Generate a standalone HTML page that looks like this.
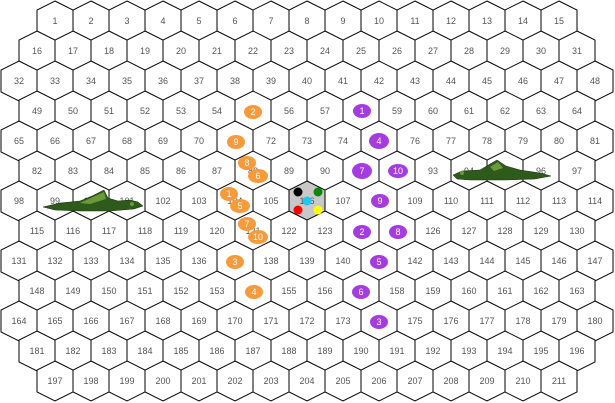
<!DOCTYPE html>
<html><head><meta charset="utf-8"><style>
html,body{margin:0;padding:0;background:#fff;width:615px;height:403px;overflow:hidden}
svg{display:block}
text{font-family:"Liberation Sans",sans-serif;font-size:9px;fill:#555;text-anchor:middle;dominant-baseline:central}
.t text{fill:#fff;font-size:9px}
</style></head><body>
<svg width="615" height="403" viewBox="0 0 615 403" xmlns="http://www.w3.org/2000/svg">
<defs><polygon id="h" points="0,-20 18,-11 18,11 0,20 -18,11 -18,-11" fill="#fff" stroke="#000" stroke-width="1"/></defs>
<g transform="translate(0,21)"><use href="#h" x="55"/><text x="55">1</text><use href="#h" x="91"/><text x="91">2</text><use href="#h" x="127"/><text x="127">3</text><use href="#h" x="163"/><text x="163">4</text><use href="#h" x="199"/><text x="199">5</text><use href="#h" x="235"/><text x="235">6</text><use href="#h" x="271"/><text x="271">7</text><use href="#h" x="307"/><text x="307">8</text><use href="#h" x="343"/><text x="343">9</text><use href="#h" x="379"/><text x="379">10</text><use href="#h" x="415"/><text x="415">11</text><use href="#h" x="451"/><text x="451">12</text><use href="#h" x="487"/><text x="487">13</text><use href="#h" x="523"/><text x="523">14</text><use href="#h" x="559"/><text x="559">15</text></g>
<g transform="translate(0,51)"><use href="#h" x="37"/><text x="37">16</text><use href="#h" x="73"/><text x="73">17</text><use href="#h" x="109"/><text x="109">18</text><use href="#h" x="145"/><text x="145">19</text><use href="#h" x="181"/><text x="181">20</text><use href="#h" x="217"/><text x="217">21</text><use href="#h" x="253"/><text x="253">22</text><use href="#h" x="289"/><text x="289">23</text><use href="#h" x="325"/><text x="325">24</text><use href="#h" x="361"/><text x="361">25</text><use href="#h" x="397"/><text x="397">26</text><use href="#h" x="433"/><text x="433">27</text><use href="#h" x="469"/><text x="469">28</text><use href="#h" x="505"/><text x="505">29</text><use href="#h" x="541"/><text x="541">30</text><use href="#h" x="577"/><text x="577">31</text></g>
<g transform="translate(0,81)"><use href="#h" x="19"/><text x="19">32</text><use href="#h" x="55"/><text x="55">33</text><use href="#h" x="91"/><text x="91">34</text><use href="#h" x="127"/><text x="127">35</text><use href="#h" x="163"/><text x="163">36</text><use href="#h" x="199"/><text x="199">37</text><use href="#h" x="235"/><text x="235">38</text><use href="#h" x="271"/><text x="271">39</text><use href="#h" x="307"/><text x="307">40</text><use href="#h" x="343"/><text x="343">41</text><use href="#h" x="379"/><text x="379">42</text><use href="#h" x="415"/><text x="415">43</text><use href="#h" x="451"/><text x="451">44</text><use href="#h" x="487"/><text x="487">45</text><use href="#h" x="523"/><text x="523">46</text><use href="#h" x="559"/><text x="559">47</text><use href="#h" x="595"/><text x="595">48</text></g>
<g transform="translate(0,111)"><use href="#h" x="37"/><text x="37">49</text><use href="#h" x="73"/><text x="73">50</text><use href="#h" x="109"/><text x="109">51</text><use href="#h" x="145"/><text x="145">52</text><use href="#h" x="181"/><text x="181">53</text><use href="#h" x="217"/><text x="217">54</text><use href="#h" x="253"/><text x="253">55</text><use href="#h" x="289"/><text x="289">56</text><use href="#h" x="325"/><text x="325">57</text><use href="#h" x="361"/><text x="361">58</text><use href="#h" x="397"/><text x="397">59</text><use href="#h" x="433"/><text x="433">60</text><use href="#h" x="469"/><text x="469">61</text><use href="#h" x="505"/><text x="505">62</text><use href="#h" x="541"/><text x="541">63</text><use href="#h" x="577"/><text x="577">64</text></g>
<g transform="translate(0,141)"><use href="#h" x="19"/><text x="19">65</text><use href="#h" x="55"/><text x="55">66</text><use href="#h" x="91"/><text x="91">67</text><use href="#h" x="127"/><text x="127">68</text><use href="#h" x="163"/><text x="163">69</text><use href="#h" x="199"/><text x="199">70</text><use href="#h" x="235"/><text x="235">71</text><use href="#h" x="271"/><text x="271">72</text><use href="#h" x="307"/><text x="307">73</text><use href="#h" x="343"/><text x="343">74</text><use href="#h" x="379"/><text x="379">75</text><use href="#h" x="415"/><text x="415">76</text><use href="#h" x="451"/><text x="451">77</text><use href="#h" x="487"/><text x="487">78</text><use href="#h" x="523"/><text x="523">79</text><use href="#h" x="559"/><text x="559">80</text><use href="#h" x="595"/><text x="595">81</text></g>
<g transform="translate(0,171)"><use href="#h" x="37"/><text x="37">82</text><use href="#h" x="73"/><text x="73">83</text><use href="#h" x="109"/><text x="109">84</text><use href="#h" x="145"/><text x="145">85</text><use href="#h" x="181"/><text x="181">86</text><use href="#h" x="217"/><text x="217">87</text><use href="#h" x="253"/><text x="253">88</text><use href="#h" x="289"/><text x="289">89</text><use href="#h" x="325"/><text x="325">90</text><use href="#h" x="361"/><text x="361">91</text><use href="#h" x="397"/><text x="397">92</text><use href="#h" x="433"/><text x="433">93</text><use href="#h" x="469"/><text x="469">94</text><use href="#h" x="505"/><text x="505">95</text><use href="#h" x="541"/><text x="541">96</text><use href="#h" x="577"/><text x="577">97</text></g>
<g transform="translate(0,201)"><use href="#h" x="19"/><text x="19">98</text><use href="#h" x="55"/><text x="55">99</text><use href="#h" x="91"/><text x="91">100</text><use href="#h" x="127"/><text x="127">101</text><use href="#h" x="163"/><text x="163">102</text><use href="#h" x="199"/><text x="199">103</text><use href="#h" x="235"/><text x="235">104</text><use href="#h" x="271"/><text x="271">105</text><polygon points="307,-20 325,-11 325,11 307,20 289,11 289,-11" fill="#c8c8c8" stroke="#000" stroke-width="1"/><text x="307">106</text><use href="#h" x="343"/><text x="343">107</text><use href="#h" x="379"/><text x="379">108</text><use href="#h" x="415"/><text x="415">109</text><use href="#h" x="451"/><text x="451">110</text><use href="#h" x="487"/><text x="487">111</text><use href="#h" x="523"/><text x="523">112</text><use href="#h" x="559"/><text x="559">113</text><use href="#h" x="595"/><text x="595">114</text></g>
<g transform="translate(0,231)"><use href="#h" x="37"/><text x="37">115</text><use href="#h" x="73"/><text x="73">116</text><use href="#h" x="109"/><text x="109">117</text><use href="#h" x="145"/><text x="145">118</text><use href="#h" x="181"/><text x="181">119</text><use href="#h" x="217"/><text x="217">120</text><use href="#h" x="253"/><text x="253">121</text><use href="#h" x="289"/><text x="289">122</text><use href="#h" x="325"/><text x="325">123</text><use href="#h" x="361"/><text x="361">124</text><use href="#h" x="397"/><text x="397">125</text><use href="#h" x="433"/><text x="433">126</text><use href="#h" x="469"/><text x="469">127</text><use href="#h" x="505"/><text x="505">128</text><use href="#h" x="541"/><text x="541">129</text><use href="#h" x="577"/><text x="577">130</text></g>
<g transform="translate(0,261)"><use href="#h" x="19"/><text x="19">131</text><use href="#h" x="55"/><text x="55">132</text><use href="#h" x="91"/><text x="91">133</text><use href="#h" x="127"/><text x="127">134</text><use href="#h" x="163"/><text x="163">135</text><use href="#h" x="199"/><text x="199">136</text><use href="#h" x="235"/><text x="235">137</text><use href="#h" x="271"/><text x="271">138</text><use href="#h" x="307"/><text x="307">139</text><use href="#h" x="343"/><text x="343">140</text><use href="#h" x="379"/><text x="379">141</text><use href="#h" x="415"/><text x="415">142</text><use href="#h" x="451"/><text x="451">143</text><use href="#h" x="487"/><text x="487">144</text><use href="#h" x="523"/><text x="523">145</text><use href="#h" x="559"/><text x="559">146</text><use href="#h" x="595"/><text x="595">147</text></g>
<g transform="translate(0,291)"><use href="#h" x="37"/><text x="37">148</text><use href="#h" x="73"/><text x="73">149</text><use href="#h" x="109"/><text x="109">150</text><use href="#h" x="145"/><text x="145">151</text><use href="#h" x="181"/><text x="181">152</text><use href="#h" x="217"/><text x="217">153</text><use href="#h" x="253"/><text x="253">154</text><use href="#h" x="289"/><text x="289">155</text><use href="#h" x="325"/><text x="325">156</text><use href="#h" x="361"/><text x="361">157</text><use href="#h" x="397"/><text x="397">158</text><use href="#h" x="433"/><text x="433">159</text><use href="#h" x="469"/><text x="469">160</text><use href="#h" x="505"/><text x="505">161</text><use href="#h" x="541"/><text x="541">162</text><use href="#h" x="577"/><text x="577">163</text></g>
<g transform="translate(0,321)"><use href="#h" x="19"/><text x="19">164</text><use href="#h" x="55"/><text x="55">165</text><use href="#h" x="91"/><text x="91">166</text><use href="#h" x="127"/><text x="127">167</text><use href="#h" x="163"/><text x="163">168</text><use href="#h" x="199"/><text x="199">169</text><use href="#h" x="235"/><text x="235">170</text><use href="#h" x="271"/><text x="271">171</text><use href="#h" x="307"/><text x="307">172</text><use href="#h" x="343"/><text x="343">173</text><use href="#h" x="379"/><text x="379">174</text><use href="#h" x="415"/><text x="415">175</text><use href="#h" x="451"/><text x="451">176</text><use href="#h" x="487"/><text x="487">177</text><use href="#h" x="523"/><text x="523">178</text><use href="#h" x="559"/><text x="559">179</text><use href="#h" x="595"/><text x="595">180</text></g>
<g transform="translate(0,351)"><use href="#h" x="37"/><text x="37">181</text><use href="#h" x="73"/><text x="73">182</text><use href="#h" x="109"/><text x="109">183</text><use href="#h" x="145"/><text x="145">184</text><use href="#h" x="181"/><text x="181">185</text><use href="#h" x="217"/><text x="217">186</text><use href="#h" x="253"/><text x="253">187</text><use href="#h" x="289"/><text x="289">188</text><use href="#h" x="325"/><text x="325">189</text><use href="#h" x="361"/><text x="361">190</text><use href="#h" x="397"/><text x="397">191</text><use href="#h" x="433"/><text x="433">192</text><use href="#h" x="469"/><text x="469">193</text><use href="#h" x="505"/><text x="505">194</text><use href="#h" x="541"/><text x="541">195</text><use href="#h" x="577"/><text x="577">196</text></g>
<g transform="translate(0,381)"><use href="#h" x="55"/><text x="55">197</text><use href="#h" x="91"/><text x="91">198</text><use href="#h" x="127"/><text x="127">199</text><use href="#h" x="163"/><text x="163">200</text><use href="#h" x="199"/><text x="199">201</text><use href="#h" x="235"/><text x="235">202</text><use href="#h" x="271"/><text x="271">203</text><use href="#h" x="307"/><text x="307">204</text><use href="#h" x="343"/><text x="343">205</text><use href="#h" x="379"/><text x="379">206</text><use href="#h" x="415"/><text x="415">207</text><use href="#h" x="451"/><text x="451">208</text><use href="#h" x="487"/><text x="487">209</text><use href="#h" x="523"/><text x="523">210</text><use href="#h" x="559"/><text x="559">211</text></g>
<circle cx="298" cy="192" r="4.5" fill="#000"/><circle cx="318" cy="192" r="4.5" fill="#0a8a0a"/><circle cx="307" cy="201" r="4.5" fill="#1ec8f0"/><circle cx="298" cy="210" r="4.5" fill="#f00"/><circle cx="318" cy="210" r="4.5" fill="#ff0"/>
<g fill="#2e5a1c" stroke="#1a3010" stroke-width="0.5">
<polygon points="43,207 60,203 80,201 92,196 104,190 108,198 118,201 130,200 138,202 143,206 134,209 110,211 80,211 55,210"/>
<polygon points="453,175 462,171 480,170 490,164 497,160 506,166 520,170 540,173 551,176 535,179 505,180 470,180 457,179"/>
</g>
<g fill="#6a9a3a"><polygon points="80,203 104,192 106,199 90,204"/><polygon points="490,167 498,162 503,168 494,171"/><circle cx="132" cy="204" r="2"/><circle cx="462" cy="173" r="2"/></g>
<g class="t">
<g fill="#f79a3a"><ellipse cx="253" cy="112" rx="9" ry="7"/><ellipse cx="236" cy="142" rx="9" ry="7"/><ellipse cx="247" cy="163" rx="9" ry="7"/><ellipse cx="258" cy="176" rx="10" ry="7"/><ellipse cx="229" cy="194" rx="9" ry="7"/><ellipse cx="240" cy="206" rx="10" ry="7"/><ellipse cx="247" cy="224" rx="9" ry="7"/><ellipse cx="258" cy="237" rx="10" ry="7"/><ellipse cx="235" cy="262" rx="9" ry="7"/><ellipse cx="254" cy="292" rx="9" ry="7"/></g>
<text x="253" y="112">2</text><text x="236" y="142">9</text><text x="247" y="163">8</text><text x="258" y="176">6</text><text x="229" y="194">1</text><text x="240" y="206">5</text><text x="247" y="224">7</text><text x="258" y="237">10</text><text x="235" y="262">3</text><text x="254" y="292">4</text>
<g fill="#a43ce0"><ellipse cx="362" cy="111" rx="9" ry="7"/><ellipse cx="379" cy="141" rx="10" ry="8"/><ellipse cx="362" cy="171" rx="10" ry="8"/><ellipse cx="398" cy="171" rx="10" ry="7"/><ellipse cx="380" cy="201" rx="9" ry="7"/><ellipse cx="362" cy="232" rx="9" ry="7"/><ellipse cx="398" cy="232" rx="9" ry="7"/><ellipse cx="379" cy="262" rx="9" ry="7"/><ellipse cx="361" cy="292" rx="9" ry="7"/><ellipse cx="379" cy="322" rx="9" ry="7"/></g>
<text x="362" y="111">1</text><text x="379" y="141">4</text><text x="362" y="171">7</text><text x="398" y="171">10</text><text x="380" y="201">9</text><text x="362" y="232">2</text><text x="398" y="232">8</text><text x="379" y="262">5</text><text x="361" y="292">6</text><text x="379" y="322">3</text>
</g>
</svg>
</body></html>
